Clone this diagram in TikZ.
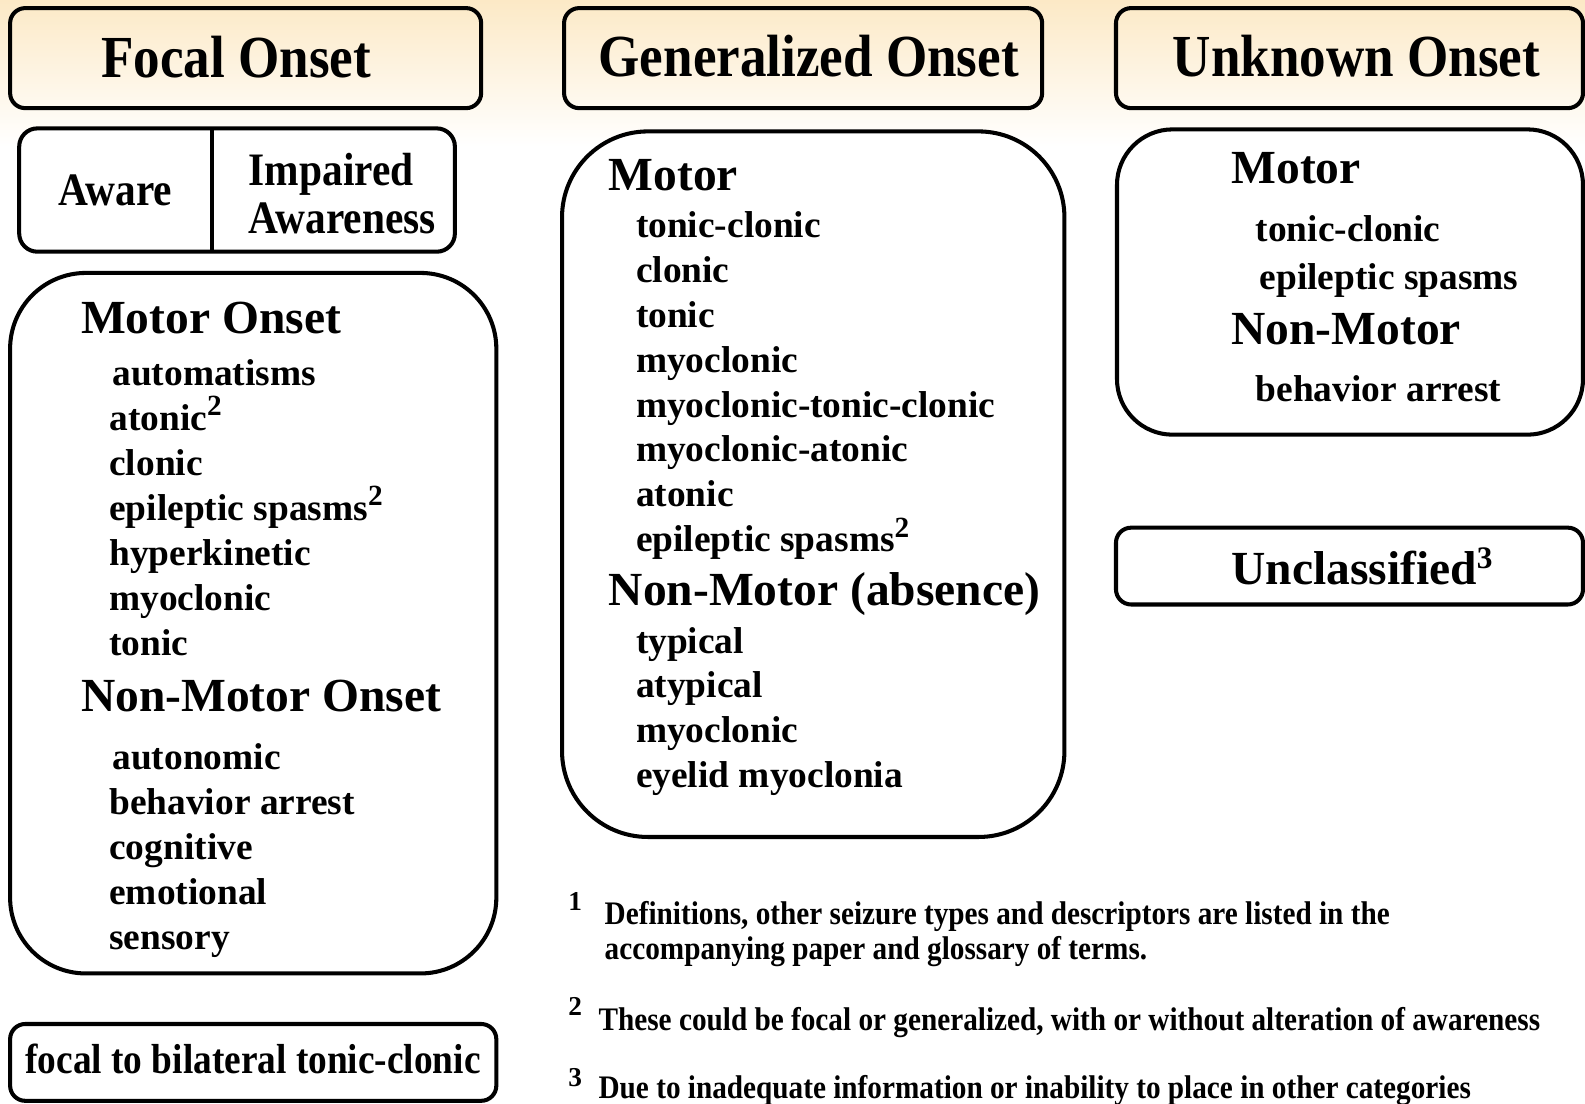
\documentclass[tikz,border=0pt]{standalone}
\usepackage{fontspec}
\setmainfont{Liberation Serif}
\newfontfamily\condbf{Liberation Serif Bold}[FakeStretch=0.89]
\newfontfamily\plainbf{Liberation Serif Bold}
\definecolor{cream}{RGB}{252,233,198}
\tikzset{
  boxline/.style={line width=4pt},
  hdtext/.style={anchor=base west,inner sep=0pt,font=\condbf\fontsize{59}{64}\selectfont},
  awtext/.style={anchor=base west,inner sep=0pt,font=\condbf\fontsize{46}{47}\selectfont},
  grptext/.style={anchor=base west,inner sep=0pt,font=\plainbf\fontsize{47}{52}\selectfont},
  itemtext/.style={anchor=base west,inner sep=0pt,font=\plainbf\fontsize{37}{42}\selectfont},
  notetext/.style={anchor=base west,inner sep=0pt,font=\condbf\fontsize{32.5}{34}\selectfont},
  marktext/.style={anchor=base west,inner sep=0pt,font=\plainbf\fontsize{27}{27}\selectfont},
}
\newcommand\fnmark[1]{\raisebox{14pt}{\fontsize{29}{29}\selectfont #1}}

\begin{document}
\begin{tikzpicture}[x=1pt,y=-1pt]
\useasboundingbox (0,0) rectangle (1568,1092);
\shade[top color=cream,bottom color=white] (0,0) rectangle (1568,145);

% onset headers
\draw[boxline,rounded corners=15pt] (10,8) rectangle (476,107);
\draw[boxline,rounded corners=15pt] (558,8) rectangle (1031,107);
\draw[boxline,rounded corners=15pt] (1104,8) rectangle (1566,107);
\node[hdtext] (focal) at (100,77) {Focal Onset};
\node[hdtext] (gen) at (592,76) {Generalized Onset};
\node[hdtext] (unk) at (1160,76) {Unknown Onset};

% awareness
\draw[boxline,rounded corners=18pt,fill=white] (19,127) rectangle (450,249);
\draw[boxline] (210,127) -- (210,249);
\node[awtext] (aware) at (58,203) {Aware};
\node[awtext] (impaired) at (246,184) {Impaired};
\node[awtext] (awareness) at (246,231) {Awareness};

% focal onset
\draw[boxline,rounded corners=75pt,fill=white] (10,270) rectangle (491,963);
\node[grptext] (fmotor) at (80,330) {Motor Onset};
\node[itemtext] (fm0) at (111,381) {automatisms};
\foreach \t [count=\i] in {atonic\fnmark{2},clonic,epileptic spasms\fnmark{2},hyperkinetic,myoclonic,tonic}
  \node[itemtext] (fm\i) at (108,{381+44.5*\i}) {\t};
\node[grptext] (fnonmotor) at (80,704) {Non-Motor Onset};
\node[itemtext] (fn0) at (111,761) {autonomic};
\foreach \t [count=\i] in {behavior arrest,cognitive,emotional,sensory}
  \node[itemtext] (fn\i) at (108,{761+44.5*\i}) {\t};

\draw[boxline,rounded corners=15pt,fill=white] (10,1013) rectangle (491,1089);
\node[notetext,font=\condbf\fontsize{41.5}{44}\selectfont] (bilat) at (25,1062) {focal to bilateral tonic-clonic};

% generalized onset
\draw[boxline,rounded corners=85pt,fill=white] (556,130) rectangle (1053,828);
\node[grptext] (gmotor) at (602,188) {Motor};
\foreach \t [count=\i] in {tonic-clonic,clonic,tonic,myoclonic,myoclonic-tonic-clonic,myoclonic-atonic,atonic,epileptic spasms\fnmark{2}}
  \node[itemtext] (gm\i) at (629,{235+44.4*(\i-1)}) {\t};
\node[grptext] (gnonmotor) at (602,599) {Non-Motor (absence)};
\foreach \t [count=\i] in {typical,atypical,myoclonic,eyelid myoclonia}
  \node[itemtext] (gn\i) at (629,{646+44.4*(\i-1)}) {\t};

% unknown onset
\draw[boxline,rounded corners=55pt,fill=white] (1105,128) rectangle (1566,430);
\node[grptext] (umotor) at (1218,182) {Motor};
\node[itemtext] (um1) at (1242,239) {tonic-clonic};
\node[itemtext] (um2) at (1246,286) {epileptic spasms};
\node[grptext] (unonmotor) at (1218,341) {Non-Motor};
\node[itemtext] (un1) at (1242,397) {behavior arrest};

\draw[boxline,rounded corners=15pt,fill=white] (1104,522) rectangle (1566,598);
\node[grptext] (uncl) at (1218,578) {Unclassified\raisebox{16pt}{\fontsize{31}{31}\selectfont 3}};

% footnotes
\node[marktext] (m1) at (562,901) {1};
\node[notetext] (n1) at (598,915) {Definitions, other seizure types and descriptors are listed in the};
\node[notetext] (n1b) at (598,949) {accompanying paper and glossary of terms.};
\node[marktext] (m2) at (562,1005) {2};
\node[notetext] (n2) at (592,1019) {These could be focal or generalized, with or without alteration of awareness};
\node[marktext] (m3) at (562,1075) {3};
\node[notetext] (n3) at (592,1087) {Due to inadequate information or inability to place in other categories};
\end{tikzpicture}
\end{document}
